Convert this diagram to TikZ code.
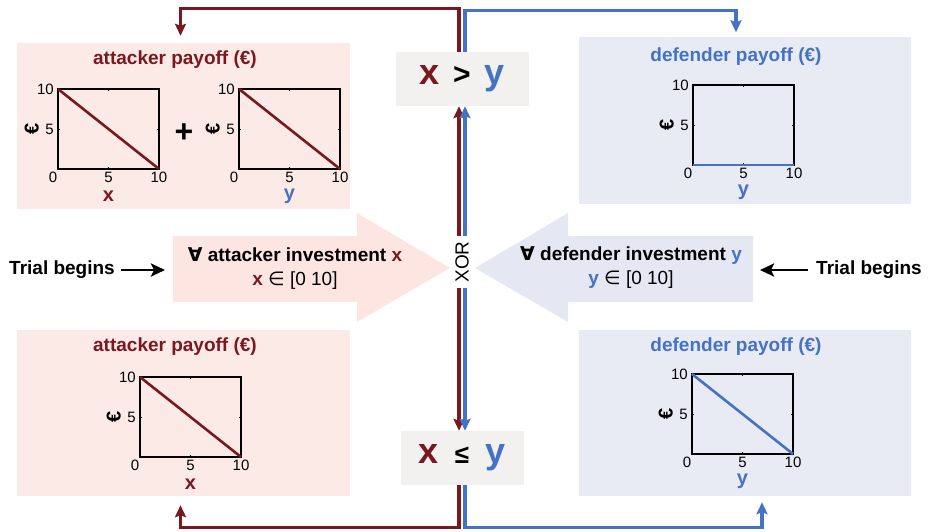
\documentclass[tikz,border=0pt]{standalone}
\usepackage{fontspec}
\setmainfont{Liberation Sans}
\newfontfamily\symfont{DejaVu Sans}
\usepackage{tikz}
\usetikzlibrary{arrows.meta}

\definecolor{atkRed}{RGB}{122,24,32}
\definecolor{defBlue}{RGB}{68,114,196}
\definecolor{atkBg}{RGB}{252,234,231}
\definecolor{defBg}{RGB}{232,234,244}
\definecolor{atkArr}{RGB}{253,229,225}
\definecolor{defArr}{RGB}{229,231,243}
\definecolor{cmpBg}{RGB}{242,241,240}

\tikzset{
  panel/.style={minimum width=333pt,minimum height=166pt,inner sep=0pt},
  paytitle/.style={font=\fontsize{19}{22}\selectfont\bfseries},
  ticklab/.style={font=\fontsize{15}{17}\selectfont,inner sep=0pt},
  axlab/.style={font=\fontsize{20}{22}\selectfont\bfseries,inner sep=0pt},
  cmpbox/.style={fill=cmpBg,minimum height=54pt,inner sep=0pt,font=\fontsize{36}{40}\selectfont\bfseries},
  invest/.style={align=center,font=\fontsize{19}{24}\selectfont},
  trial/.style={font=\fontsize{19}{22}\selectfont\bfseries},
  atkline/.style={draw=atkRed,line width=3.2pt,-{Stealth[length=12pt,width=11pt,inset=2pt]}},
  defline/.style={draw=defBlue,line width=3.2pt,-{Stealth[length=12pt,width=11pt,inset=2pt]}},
  begarrow/.style={line width=2.8pt,-{Stealth[length=14pt,width=13pt,inset=3pt]}}
}

\begin{document}
\begin{tikzpicture}[x=1pt,y=-1pt]
  \useasboundingbox (0,0) rectangle (929,532);

  % payoff panels
  \node[panel,fill=atkBg] (atkTop) at (183.5,126) {};
  \node[panel,fill=defBg,minimum width=332pt] (defTop) at (745,120.5) {};
  \node[panel,fill=atkBg] (atkBot) at (183.5,413) {};
  \node[panel,fill=defBg,minimum width=332pt] (defBot) at (745,413) {};
  \node[paytitle,text=atkRed] (atkTopTitle) at (175,60) {attacker payoff (€)};
  \node[paytitle,text=defBlue] (defTopTitle) at (736,57) {defender payoff (€)};
  \node[paytitle,text=atkRed] (atkBotTitle) at (175,347) {attacker payoff (€)};
  \node[paytitle,text=defBlue] (defBotTitle) at (736,347) {defender payoff (€)};
  \node[font=\fontsize{32}{34}\selectfont\bfseries] (plus) at (184,133) {+};

  % small payoff plots
  \foreach \px/\py/\ys/\lc/\ax/\ac [count=\n] in {58/169/10/atkRed/x/atkRed,239/169/10/atkRed/y/defBlue,693/165/0/defBlue/y/defBlue,140/457/10/atkRed/x/atkRed,692/454/10/defBlue/y/defBlue}{
    \begin{scope}[shift={(\px,\py)},x=10.1pt,y=8pt]
      \draw[line width=1.2pt] (0,0) rectangle (10,10);
      \draw[line width=.5pt] (5,0) -- (5,.25) (5,10) -- (5,9.75) (0,5) -- (.2,5) (10,5) -- (9.8,5);
      \draw[\lc,line width=2.6pt] (0,\ys) -- (10,0);
      \node[ticklab,anchor=east] (yt\n-a) at (-.4,10) {10};
      \node[ticklab,anchor=east] (yt\n-b) at (-.4,5) {5};
      \node[ticklab] (xt\n-a) at (-.5,-1.1) {0};
      \node[ticklab] (xt\n-b) at (5,-1.1) {5};
      \node[ticklab] (xt\n-c) at (10,-1.1) {10};
      \node[axlab,text=\ac] (xl\n) at (5,-3.35) {\ax};
      \node[axlab,rotate=90] (yl\n) at (-2.6,5) {€};
    \end{scope}
  }

  % investment arrows
  \fill[atkArr] (173,236) -- (357,236) -- (357,213) -- (450,268) -- (357,322) -- (357,302) -- (173,302) -- cycle;
  \fill[defArr] (753,236) -- (568,236) -- (568,213) -- (475,268) -- (568,322) -- (568,302) -- (753,302) -- cycle;
  \coordinate (atkTail) at (173,270);
  \coordinate (defTail) at (753,270);
  \node[invest] (atkInv) at (295,269) {{\bfseries{\symfont ∀} attacker investment \textcolor{atkRed}{x}}\\{\bfseries\textcolor{atkRed}{x}} {\symfont ∈} [0 10]};
  \node[invest] (defInv) at (631,268) {{\bfseries{\symfont ∀} defender investment \textcolor{defBlue}{y}}\\{\bfseries\textcolor{defBlue}{y}} {\symfont ∈} [0 10]};
  \node[trial] (trialL) at (62,270) {Trial begins};
  \node[trial] (trialR) at (869,270) {Trial begins};
  \draw[begarrow,shorten <=3pt,shorten >=8pt] (trialL.east) -- (atkTail);
  \draw[begarrow,shorten <=5pt,shorten >=7pt] (trialR.west) -- (defTail);

  % comparison boxes
  \node[cmpbox,minimum width=133pt] (gt) at (462,79) {\textcolor{atkRed}{x}\hspace{14pt}{\fontsize{30}{32}\selectfont >}\hspace{14pt}\textcolor{defBlue}{y}};
  \node[cmpbox,minimum width=123pt] (le) at (462,458) {\textcolor{atkRed}{x}\hspace{16pt}{\fontsize{26}{28}\selectfont ≤}\hspace{16pt}\textcolor{defBlue}{y}};
  \node[font=\fontsize{19}{22}\selectfont,inner xsep=2pt,inner ysep=5pt] (xor) at (462,262) {\rotatebox{90}{XOR}};

  % outcome lines
  \draw[atkline] ([xshift=-3pt]xor.north) -- ([xshift=-3pt]xor.north |- gt.south);
  \draw[defline] ([xshift=3pt]xor.north) -- ([xshift=3pt]xor.north |- gt.south);
  \draw[atkline] ([xshift=-3pt]xor.south) -- ([xshift=-3pt]xor.south |- le.north);
  \draw[defline] ([xshift=3pt]xor.south) -- ([xshift=3pt]xor.south |- le.north);
  \draw[atkline,shorten >=7pt] ([xshift=-3pt]gt.north) -- ++(0,-43) -| ([xshift=-3pt]atkTop.north);
  \draw[defline,shorten >=5pt] ([xshift=3pt]gt.north) -- ++(0,-41) -| ([xshift=-9pt]defTop.north);
  \draw[atkline,shorten >=9pt] ([xshift=-3pt]le.south) -- ++(0,42) -| ([xshift=-3pt]atkBot.south);
  \draw[defline,shorten >=6pt] ([xshift=3pt]le.south) -- ++(0,42) -| ([xshift=17pt]defBot.south);
\end{tikzpicture}
\end{document}
